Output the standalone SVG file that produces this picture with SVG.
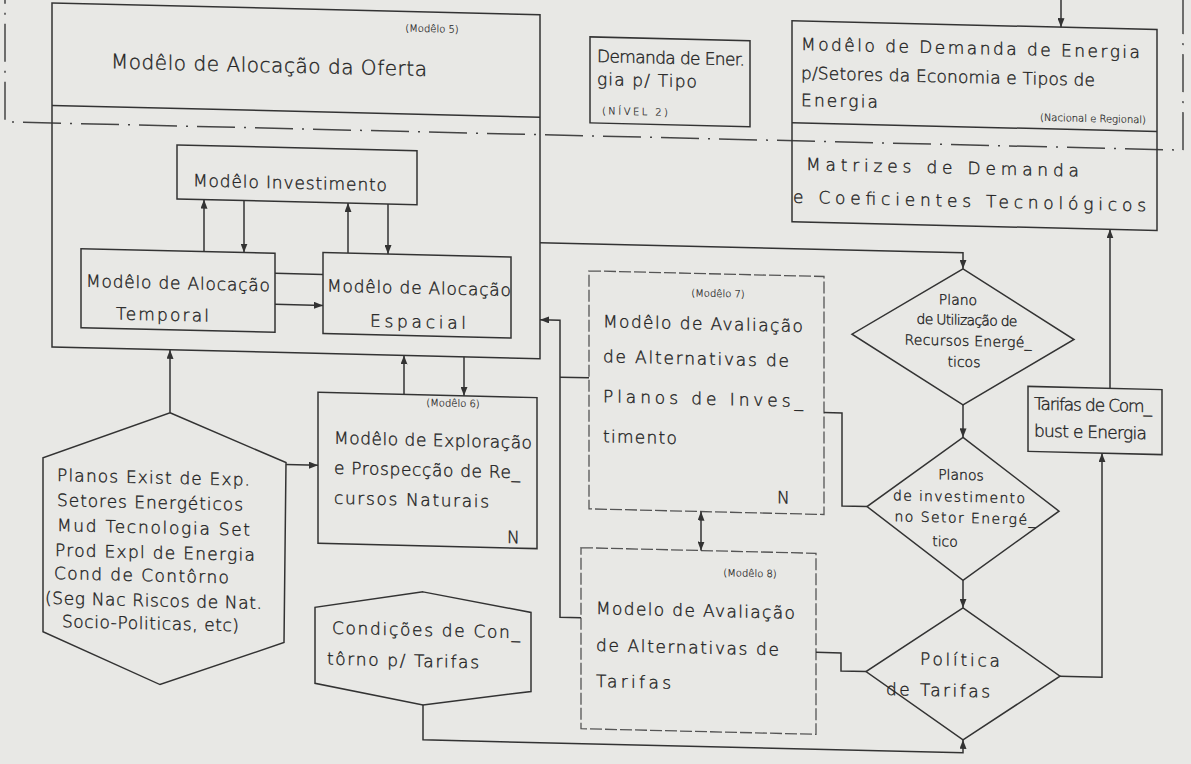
<svg xmlns="http://www.w3.org/2000/svg" width="1191" height="764" viewBox="0 0 1191 764">
<defs>
<style>
.bx{fill:none;stroke:#333;stroke-width:1.5}
.fb{fill:none;stroke:#555;stroke-width:1.3;stroke-dasharray:12 3}
.ln{fill:none;stroke:#333;stroke-width:1.5}
.ar{marker-end:url(#ah)}
.fr{fill:none;stroke:#444;stroke-width:1.5;stroke-dasharray:38 9 2 9}
text{font-family:"DejaVu Sans","Liberation Sans",sans-serif;font-weight:200;fill:#222;stroke:#222;stroke-width:0.35;font-size:17px}
.s{font-size:10px;stroke-width:0.2}
.t{font-size:20px}
.d{font-size:14px}
.m{text-anchor:middle}
</style>
<marker id="ah" markerUnits="userSpaceOnUse" markerWidth="9" markerHeight="7" refX="9" refY="3.5" orient="auto-start-reverse" viewBox="0 0 9 7"><path d="M0,0 L9,3.5 L0,7 z" fill="#333"/></marker>
</defs>
<rect width="1191" height="764" fill="#e8e8e5"/>
<g transform="matrix(1 0.024 0 1 0 -14.28)">
<g id="frame"><path class="fr" d="M5,-20 V136 H1183 V-40"/></g>

<g id="m5">
<rect class="bx" x="52" y="16" width="488" height="344"/>
<line class="ln" x1="52" y1="118.5" x2="540" y2="118.5"/>
<text class="s m" x="432" y="36">(Modêlo 5)</text>
<text class="t" x="111" y="80" textLength="316">Modêlo de Alocação da Oferta</text>
</g>
<g id="investimento">
<rect class="bx" x="177" y="155" width="240" height="54"/>
<text x="193" y="196" textLength="194">Modêlo Investimento</text>
</g>
<g id="temporal">
<rect class="bx" x="81" y="261" width="194" height="79"/>
<text x="86" y="299" textLength="184">Modêlo de Alocação</text>
<text x="116" y="331" textLength="93">Temporal</text>
</g>
<g id="espacial">
<rect class="bx" x="323" y="259" width="188" height="81"/>
<text x="327" y="298" textLength="184">Modêlo de Alocação</text>
<text x="370" y="332" textLength="96">Espacial</text>
</g>
<g id="demanda-tipo">
<rect class="bx" x="590" y="37" width="160" height="86"/>
<text x="597" y="62" font-size="16" textLength="148">Demanda de Ener.</text>
<text x="597" y="85" font-size="16" textLength="100">gia p/ Tipo</text>
<text class="s" x="602" y="114" textLength="66">(NÍVEL 2)</text>
</g>
<g id="m-demanda">
<rect class="bx" x="792" y="16" width="365" height="201"/>
<line class="ln" x1="792" y1="118" x2="1157" y2="118"/>
<text x="801" y="45" font-size="18" textLength="339">Modêlo de Demanda de Energia</text>
<text x="801" y="74" font-size="18" textLength="294">p/Setores da Economia e Tipos de</text>
<text x="801" y="101" font-size="18" textLength="77">Energia</text>
<text class="s" x="1040" y="110" textLength="106">(Nacional e Regional)</text>
<text x="806" y="165" font-size="18" textLength="273">Matrizes de Demanda</text>
<text x="793" y="198" font-size="18" textLength="353">e Coeficientes Tecnológicos</text>
</g>
<g id="planos-exist">
<polygon class="bx" points="170,423 286,470 284,650 160,695 43,645 43,471"/>
<text x="57" y="494" textLength="193">Planos Exist de Exp.</text>
<text x="57" y="519" textLength="186">Setores Energéticos</text>
<text x="57" y="544" textLength="193">Mud Tecnologia Set</text>
<text x="55" y="569" textLength="200">Prod Expl de Energia</text>
<text x="54" y="592" textLength="175">Cond de Contôrno</text>
<text x="45" y="617" textLength="217">(Seg Nac Riscos de Nat.</text>
<text x="62" y="640" textLength="177">Socio-Politicas, etc)</text>
</g>
<g id="m6">
<rect class="bx" x="318" y="399" width="219" height="151"/>
<text class="s m" x="453" y="410">(Modêlo 6)</text>
<text x="334" y="450" textLength="198">Modêlo de Exploração</text>
<text x="334" y="480" textLength="186">e Prospecção de Re_</text>
<text x="334" y="510" textLength="155">cursos Naturais</text>
<text x="507" y="545">N</text>
</g>
<g id="condicoes">
<polygon class="bx" points="423,596 531,614 531,693 423,709 315,690 315,614"/>
<text x="332" y="640" textLength="188">Condições de Con_</text>
<text x="327" y="671" textLength="152">tôrno p/ Tarifas</text>
</g>
<g id="m7">
<rect class="fb" x="589" y="271" width="235" height="238"/>
<text class="s m" x="718" y="294">(Modêlo 7)</text>
<text x="603" y="327" textLength="200">Modêlo de Avaliação</text>
<text x="603" y="362" textLength="186">de Alternativas de</text>
<text x="603" y="402" textLength="200">Planos de Inves_</text>
<text x="603" y="442" textLength="74">timento</text>
<text x="777" y="499">N</text>
</g>
<g id="m8">
<rect class="fb" x="581" y="548" width="235" height="181"/>
<text class="s m" x="750" y="573">(Modêlo 8)</text>
<text x="596" y="614" textLength="199">Modelo de Avaliação</text>
<text x="596" y="651" textLength="183">de Alternativas de</text>
<text x="596" y="687" textLength="75">Tarifas</text>
</g>
<g id="d1">
<polygon class="bx" points="963,260 1074,328 963,396 852,328"/>
<text class="d m" x="958" y="296">Plano</text>
<text class="d m" x="967" y="316" textLength="101">de Utilização de</text>
<text class="d m" x="968" y="337" textLength="127">Recursos Energé_</text>
<text class="d m" x="964" y="358">ticos</text>
</g>
<g id="d2">
<polygon class="bx" points="963,428.5 1059,500 963,571.5 867,500"/>
<text class="d m" x="961" y="471">Planos</text>
<text class="d m" x="959" y="493" textLength="132">de investimento</text>
<text class="d m" x="965" y="514" textLength="141">no Setor Energé_</text>
<text class="d m" x="945" y="538">tico</text>
</g>
<g id="d3">
<polygon class="bx" points="963,599 1060,665 963,731 866,665"/>
<text class="m" x="960" y="657" textLength="80">Política</text>
<text class="m" x="938" y="688" textLength="104">de Tarifas</text>
</g>
<g id="tarifas">
<rect class="bx" x="1028" y="376" width="134" height="65"/>
<text x="1034" y="399" font-size="16" textLength="118">Tarifas de Com_</text>
<text x="1034" y="426" font-size="16" textLength="113">bust e Energia</text>
</g>

<g id="connectors">
<path class="ln ar" d="M540,244 H963 V260"/>
<path class="ln ar" d="M963,396 V428.5"/>
<path class="ln ar" d="M963,571.5 V599"/>
<path class="ln ar" d="M1060,665 H1102 V441"/>
<path class="ln ar" d="M1110,376 V217"/>
<path class="ln" d="M824,407 H842 V500 H867"/>
<path class="ln" d="M816,647 H841 V665 H866"/>
<path class="ln ar" d="M581,618 H560 V321 H540"/>
<path class="ln" d="M589,378 H560"/>
<path class="ln ar" d="M701,509 V548" marker-start="url(#ah)"/>
<path class="ln ar" d="M423,709 V744 H963 V731"/>
<path class="ln ar" d="M286,472 H318"/>
<path class="ln ar" d="M170,423 V360"/>
<path class="ln ar" d="M404,399 V360"/>
<path class="ln ar" d="M464,360 V399"/>
<path class="ln ar" d="M204,261 V209"/>
<path class="ln ar" d="M244,209 V261"/>
<path class="ln ar" d="M348,259 V209"/>
<path class="ln ar" d="M388,209 V259"/>
<path class="ln" d="M275,281 H323"/>
<path class="ln ar" d="M275,312 H323"/>
<path class="ln ar" d="M1061,-30 V16"/>
</g>
</g>
</svg>
